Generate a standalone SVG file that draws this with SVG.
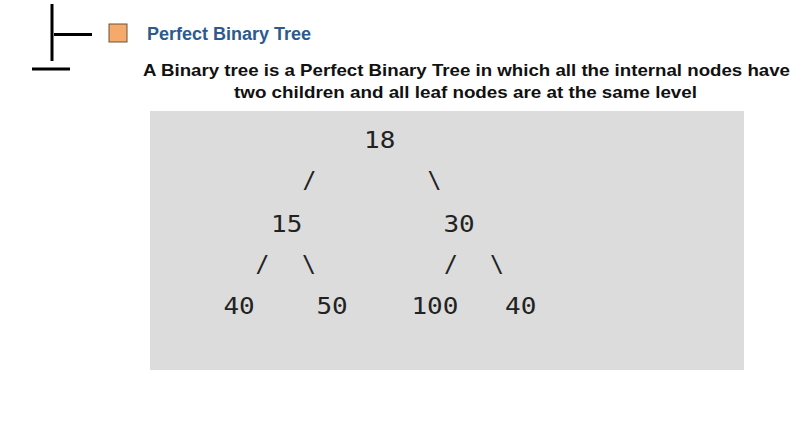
<svg xmlns="http://www.w3.org/2000/svg" width="811" height="436" viewBox="0 0 811 436">
  <style>
    .ln { stroke: #000; stroke-width: 3; fill: none; }
    .num { font-family: "DejaVu Sans Mono", "Liberation Mono", monospace; font-size: 23px; fill: #222; }
    .sl { font-family: "DejaVu Sans Mono", "Liberation Mono", monospace; font-size: 23px; fill: #222; text-anchor: middle; }
    .title { font-family: "Liberation Sans", Arial, sans-serif; font-weight: bold; font-size: 18px; fill: #2c5a8f; }
    .desc { font-family: "Liberation Sans", Arial, sans-serif; font-weight: bold; font-size: 17px; fill: #111; text-anchor: middle; }
  </style>
  <rect width="811" height="436" fill="#fff"/>
  <g id="bracket">
    <line class="ln" x1="52" y1="4" x2="52" y2="61"/>
    <line class="ln" x1="54" y1="34.5" x2="92" y2="34.5"/>
    <line class="ln" x1="32" y1="69" x2="70" y2="69"/>
  </g>
  <g id="heading">
    <rect x="109" y="24" width="18" height="18" fill="#f5a96b" stroke="#6e5236" stroke-width="1"/>
    <text class="title" x="147" y="39.5">Perfect Binary Tree</text>
  </g>
  <g id="description">
    <text class="desc" x="466.5" y="75.5" textLength="647" lengthAdjust="spacingAndGlyphs">A Binary tree is a Perfect Binary Tree in which all the internal nodes have</text>
    <text class="desc" x="465.5" y="97.5" textLength="463" lengthAdjust="spacingAndGlyphs">two children and all leaf nodes are at the same level</text>
  </g>
  <rect id="panel" x="150" y="111" width="594" height="259" fill="#dcdcdc"/>
  <g id="connectors">
    <text class="sl" x="309.5" y="188">/</text>
    <text class="sl" x="434.5" y="188">\</text>
    <text class="sl" x="262.5" y="272">/</text>
    <text class="sl" x="309" y="272">\</text>
    <text class="sl" x="451" y="272">/</text>
    <text class="sl" x="497" y="272">\</text>
  </g>
  <g id="node-18"><text class="num" x="364.1" y="148" textLength="31.3" lengthAdjust="spacingAndGlyphs">18</text></g>
  <g id="node-15"><text class="num" x="271.1" y="231.5" textLength="31.3" lengthAdjust="spacingAndGlyphs">15</text></g>
  <g id="node-30"><text class="num" x="443.4" y="231.5" textLength="31.3" lengthAdjust="spacingAndGlyphs">30</text></g>
  <g id="node-40a"><text class="num" x="223.4" y="314" textLength="31.3" lengthAdjust="spacingAndGlyphs">40</text></g>
  <g id="node-50"><text class="num" x="316.4" y="314" textLength="31.3" lengthAdjust="spacingAndGlyphs">50</text></g>
  <g id="node-100"><text class="num" x="411.4" y="314" textLength="47" lengthAdjust="spacingAndGlyphs">100</text></g>
  <g id="node-40b"><text class="num" x="505.1" y="314" textLength="31.3" lengthAdjust="spacingAndGlyphs">40</text></g>
</svg>
